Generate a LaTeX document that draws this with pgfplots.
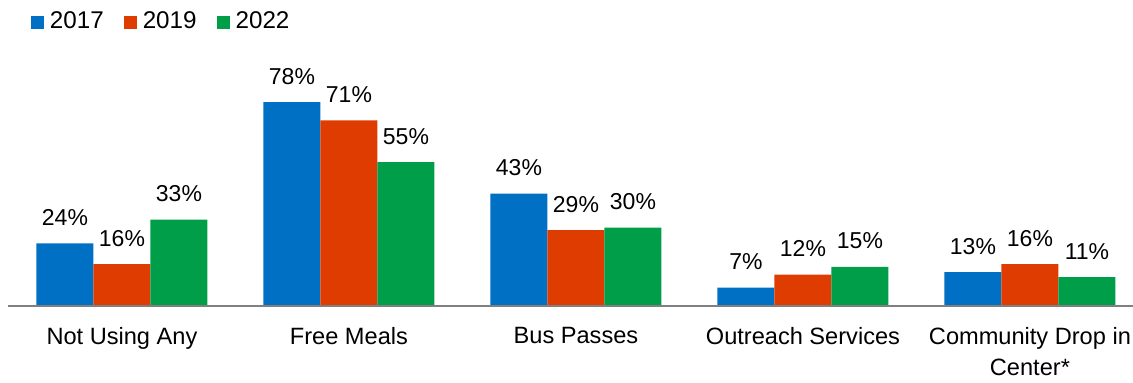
\documentclass[border=0pt]{standalone}
\usepackage{pgfplots}
\pgfplotsset{compat=1.18}
\usepackage{fontspec}
\setmainfont{Liberation Sans}
\definecolor{cblue}{RGB}{0,112,196}
\definecolor{corange}{RGB}{222,60,0}
\definecolor{cgreen}{RGB}{0,158,73}
\definecolor{cgray}{RGB}{128,128,128}
\begin{document}
\begin{tikzpicture}
\useasboundingbox (-4pt,-38pt) rectangle (562.5pt,153pt);
\begin{axis}[
  at={(0,0)}, anchor=south west,
  scale only axis,
  width=562.5pt, height=130.75pt,
  xmin=-0.502, xmax=4.454,
  ymin=0, ymax=100,
  ybar=0pt, bar width=28.5pt,
  axis line style={draw=none},
  ytick=\empty,
  xtick={0,1,2,3,4},
  xticklabels={Not Using Any,Free Meals,Bus Passes,Outreach Services,{Community Drop in\\Center*}},
  major tick length=0pt,
  xticklabel style={anchor=north, inner sep=0pt, yshift=-10.5pt, align=center,
     font=\fontsize{11.8}{15.5}\selectfont},
  clip=false,
  /pgf/number format/assume math mode=true,
  nodes near coords={\pgfmathprintnumber{\pgfplotspointmeta}\%},
  every node near coord/.append style={anchor=base, yshift=9pt, inner sep=0pt,
     font=\fontsize{11.5}{13}\selectfont, text=black},
  legend columns=-1,
  legend style={at={(axis description cs:0.0204,1.086)}, anchor=west, draw=none, fill=none,
     inner sep=0pt, outer sep=0pt,
     nodes={inner sep=0pt, font=\fontsize{12.1}{13}\selectfont},
     /tikz/every odd column/.append style={column sep=3pt},
     /tikz/every even column/.append style={column sep=10pt}},
  legend image code/.code={\fill[#1] (0pt,-3.25pt) rectangle (6.5pt,3.25pt);},
]
\addplot[fill=cblue, draw=none] coordinates {(0,24) (1,78) (2,43) (3,7) (4,13)};
\addplot[fill=corange, draw=none] coordinates {(0,16) (1,71) (2,29) (3,12) (4,16)};
\addplot[fill=cgreen, draw=none] coordinates {(0,33) (1,55) (2,30) (3,15) (4,11)};
\legend{2017,2019,2022}
\draw[cgray, line width=1pt] (rel axis cs:0,0) -- (rel axis cs:1,0);
\end{axis}
\end{tikzpicture}
\end{document}
